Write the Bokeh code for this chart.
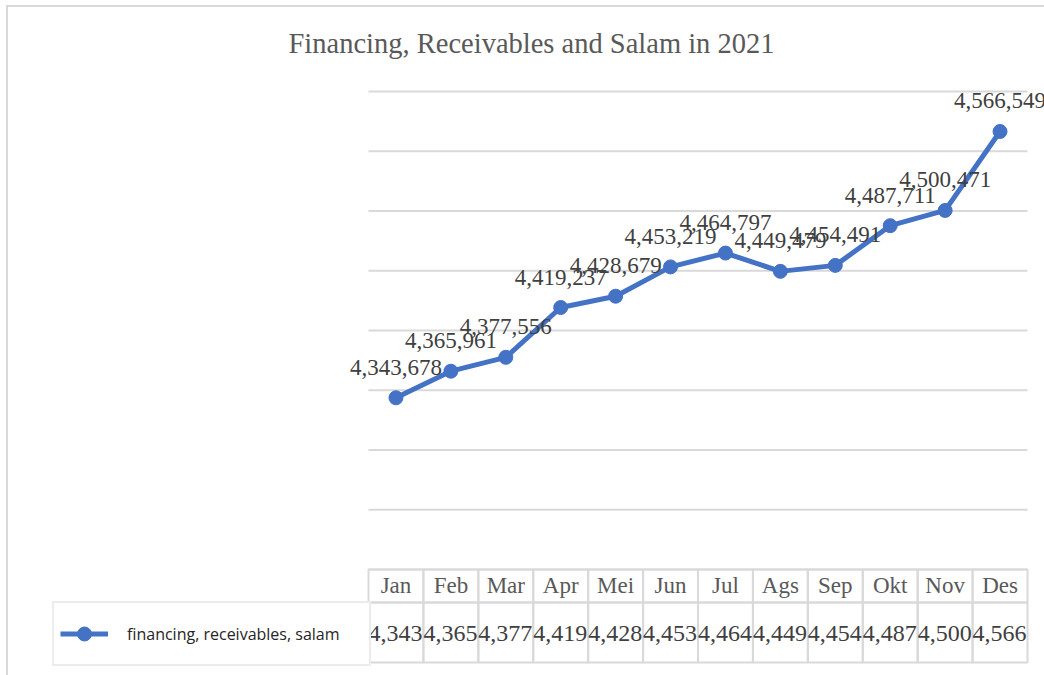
from bokeh.plotting import figure
from bokeh.models import (ColumnDataSource, Range1d, LabelSet, Label, Legend, LegendItem)
from bokeh.layouts import column
from bokeh.embed import file_html
from bokeh.resources import INLINE

# ---- data ----
months = ["Jan", "Feb", "Mar", "Apr", "Mei", "Jun", "Jul", "Ags", "Sep", "Okt", "Nov", "Des"]
values = [4343678, 4365961, 4377556, 4419237, 4428679, 4453219, 4464797,
          4449479, 4454491, 4487711, 4500471, 4566549]
series_name = "financing, receivables, salam"
title_text = "Financing, Receivables and Salam in 2021"
y_min, y_max, y_step = 4200000, 4600000, 50000

BLUE = "#4472C4"
GRID = "#d9d9d9"
SERIF = "Liberation Serif"

# ---- layout (pixels, relative to the figure canvas) ----
W, H = 1036, 668
plot_left, plot_w = 360, 659          # plot area horizontally
plot_top, plot_bottom = 84, 562        # plot area vertically (from canvas top)
col_w = plot_w / 12
n = len(months)

idx = list(range(n))
full_labels = [f"{v:,}" for v in values]
src = ColumnDataSource(dict(i=idx, m=months, v=values, lab=full_labels,
                            cell=[s[:5] for s in full_labels]))

# x in month-index units, y in data units, arranged so the plot area sits where it should
x0 = -0.5 - plot_left / col_w
x1 = n - 0.5 + (W - plot_left - plot_w) / col_w
upp = (y_max - y_min) / (plot_bottom - plot_top)   # units per pixel
y0 = y_min - (H - plot_bottom) * upp
y1 = y_max + plot_top * upp

p = figure(width=W, height=H, x_range=Range1d(x0, x1), y_range=Range1d(y0, y1),
           output_backend="svg", toolbar_location=None,
           min_border=0, min_border_left=0, min_border_right=0,
           min_border_top=0, min_border_bottom=0)
p.outline_line_color = None
p.xaxis.visible = False
p.yaxis.visible = False
p.xgrid.visible = False
p.ygrid.visible = False

# table rows: pixels above the table bottom
tbl_bottom = 655   # canvas px from top
p.extra_y_ranges = {"tbl": Range1d(tbl_bottom - H, tbl_bottom)}

# horizontal gridlines across the plot area
levels = list(range(y_min, y_max + 1, y_step))
p.segment(x0=[-0.5] * len(levels), x1=[n - 0.5] * len(levels), y0=levels, y1=levels,
          line_color=GRID, line_width=2)

# series
lr = p.line("i", "v", source=src, line_color=BLUE, line_width=5, line_join="round")
sr = p.scatter("i", "v", source=src, size=14, fill_color=BLUE, line_color=BLUE)

labels = LabelSet(x="i", y="v", text="lab", source=src, y_offset=23,
                  text_align="center", text_baseline="alphabetic",
                  text_font=SERIF, text_font_size="23px", text_color="#404040")
p.add_layout(labels)

title = Label(x=523, y=H - 36, x_units="screen", y_units="screen", text=title_text,
              text_align="center", text_baseline="alphabetic",
              text_font=SERIF, text_font_size="28.5px", text_color="#595959")
p.add_layout(title)

# data table
p.rect(x="i", y=76.5, width=1, height=33, source=src, fill_color=None,
       line_color=GRID, line_width=2, y_range_name="tbl")
p.rect(x="i", y=30, width=1, height=60, source=src, fill_color=None,
       line_color=GRID, line_width=2, y_range_name="tbl")
p.text(x="i", y=77, text="m", source=src, text_align="center", text_baseline="middle",
       text_font={"value": SERIF}, text_font_size="23px", text_color="#595959",
       y_range_name="tbl")
cell_src = ColumnDataSource(dict(xl=[i - 0.5 for i in idx], cell=src.data["cell"]))
p.text(x="xl", y=29, text="cell", source=cell_src,
       text_align="left", text_baseline="middle",
       text_font={"value": SERIF}, text_font_size="24px", text_color="#404040",
       y_range_name="tbl")

# legend
legend = Legend(items=[LegendItem(label=series_name, renderers=[lr, sr])],
                location=(44, 9), padding=6, margin=0, spacing=0,
                glyph_width=48, glyph_height=35, label_standoff=19,
                label_width=236, label_height=49,
                label_text_font="Open Sans", label_text_font_size="16px",
                label_text_color="#262626",
                border_line_color=GRID, border_line_width=2,
                background_fill_color="white", background_fill_alpha=1)
p.add_layout(legend)

layout = column(p, spacing=0, margin=(5, 0, 0, 6),
                styles={"border-top": "2px solid #d9d9d9", "border-left": "2px solid #d9d9d9"})

open("out.html", "w").write(file_html(layout, INLINE))
